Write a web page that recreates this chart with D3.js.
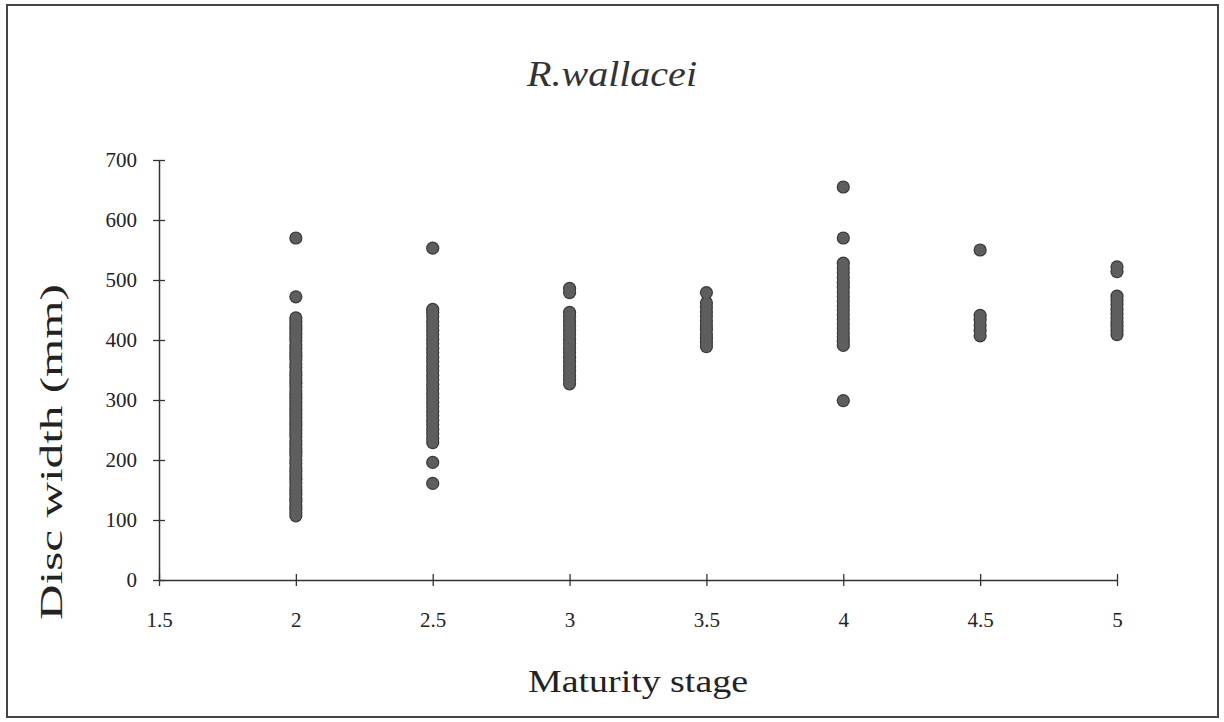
<!DOCTYPE html>
<html><head><meta charset="utf-8">
<script src="https://cdn.jsdelivr.net/npm/d3@7"></script>
<style>html,body{margin:0;padding:0;background:#fff;}svg{display:block;}</style>
</head><body>
<svg id="chart" width="1224" height="722"></svg>
<script>
const title = "R.wallacei";
const xLabel = "Maturity stage";
const yLabel = "Disc width (mm)";
const xTicks = [1.5, 2, 2.5, 3, 3.5, 4, 4.5, 5];
const yTicks = [0, 100, 200, 300, 400, 500, 600, 700];

const stage2 = [570, 472, 437, 431, 424, 418, 411, 405, 399, 392, 386, 379, 373, 367, 360, 354, 347, 341, 335, 328, 322, 315, 309, 303, 296, 290, 283, 277, 271, 264, 258, 251, 245, 239, 232, 226, 219, 213, 207, 200, 194, 187, 181, 175, 168, 162, 155, 149, 143, 136, 131, 124, 118, 112, 107];
const stage25 = [553, 451, 446, 439, 431, 424, 416, 409, 401, 394, 386, 379, 371, 364, 356, 349, 341, 334, 326, 319, 311, 304, 296, 289, 281, 274, 266, 259, 251, 244, 236, 229, 196, 161];
const stage3 = [486, 479, 446, 439, 431, 424, 416, 409, 401, 394, 386, 379, 371, 364, 356, 349, 341, 334, 327];
const stage35 = [479, 462, 455, 447, 440, 432, 425, 418, 410, 403, 396, 389];
const stage4 = [655, 570, 528, 520, 512, 504, 496, 488, 480, 472, 465, 457, 450, 442, 435, 427, 420, 412, 405, 398, 391, 299];
const stage45 = [550, 441, 434, 425, 416, 407];
const stage5 = [522, 514, 473, 466, 459, 451, 444, 437, 430, 423, 416, 409];

const stages = [2, 2.5, 3, 3.5, 4, 4.5, 5];
const seriesValues = [stage2, stage25, stage3, stage35, stage4, stage45, stage5];
const points = [];
stages.forEach((s, i) => seriesValues[i].forEach(v => points.push({x: s, y: v})));

const svg = d3.select("#chart");
const serif = "'Liberation Serif','Times New Roman',serif";

// frame
svg.append("rect").attr("x", 7).attr("y", 5).attr("width", 1211).attr("height", 712)
  .attr("fill", "#fff").attr("stroke", "#444").attr("stroke-width", 2);

const x = d3.scaleLinear().domain([1.5, 5]).range([159, 1117]);
const y = d3.scaleLinear().domain([0, 700]).range([580, 160]);

// x axis
const xg = svg.append("g").attr("transform", `translate(0,${y(0)})`)
  .call(d3.axisBottom(x).tickValues(xTicks).tickSizeInner(6).tickSizeOuter(0).tickPadding(26)
    .tickFormat(d => String(d)));
xg.select(".domain").attr("stroke", "#333").attr("stroke-width", 1.5);
xg.selectAll(".tick line").attr("y1", -6).attr("y2", 6).attr("stroke", "#333").attr("stroke-width", 1.3);
xg.selectAll(".tick text").attr("font-family", serif).attr("font-size", 21).attr("fill", "#222");

// y axis
const yg = svg.append("g").attr("transform", `translate(${x(1.5)},0)`)
  .call(d3.axisLeft(y).tickValues(yTicks).tickSizeInner(6).tickSizeOuter(0).tickPadding(16));
yg.select(".domain").attr("stroke", "#333").attr("stroke-width", 1.5);
yg.selectAll(".tick line").attr("x1", -6).attr("x2", 6).attr("stroke", "#333").attr("stroke-width", 1.3);
yg.selectAll(".tick text").attr("font-family", serif).attr("font-size", 21).attr("fill", "#222");

// points: outline layer then fill layer so overlapping dots merge into columns
const pg = svg.append("g");
pg.selectAll("circle.o").data(points).join("circle").attr("class", "o")
  .attr("cx", d => x(d.x)).attr("cy", d => y(d.y)).attr("r", 6.6)
  .attr("fill", "#3a3a3a");
pg.selectAll("circle.f").data(points).join("circle").attr("class", "f")
  .attr("cx", d => x(d.x)).attr("cy", d => y(d.y)).attr("r", 5.4)
  .attr("fill", "#5e5e5e");

// title
svg.append("text").attr("x", 612).attr("y", 86).attr("text-anchor", "middle")
  .attr("font-family", serif).attr("font-style", "italic").attr("font-size", 35)
  .attr("fill", "#333").attr("textLength", 170).attr("lengthAdjust", "spacingAndGlyphs").text(title);

// x label
svg.append("text").attr("x", 638).attr("y", 692).attr("text-anchor", "middle")
  .attr("font-family", serif).attr("font-size", 32).attr("fill", "#222")
  .attr("textLength", 220).attr("lengthAdjust", "spacingAndGlyphs").text(xLabel);

// y label
svg.append("text").attr("transform", "translate(62,452) rotate(-90)").attr("text-anchor", "middle")
  .attr("font-family", serif).attr("font-size", 32).attr("fill", "#222")
  .attr("textLength", 336).attr("lengthAdjust", "spacingAndGlyphs").text(yLabel);
</script>
</body></html>
